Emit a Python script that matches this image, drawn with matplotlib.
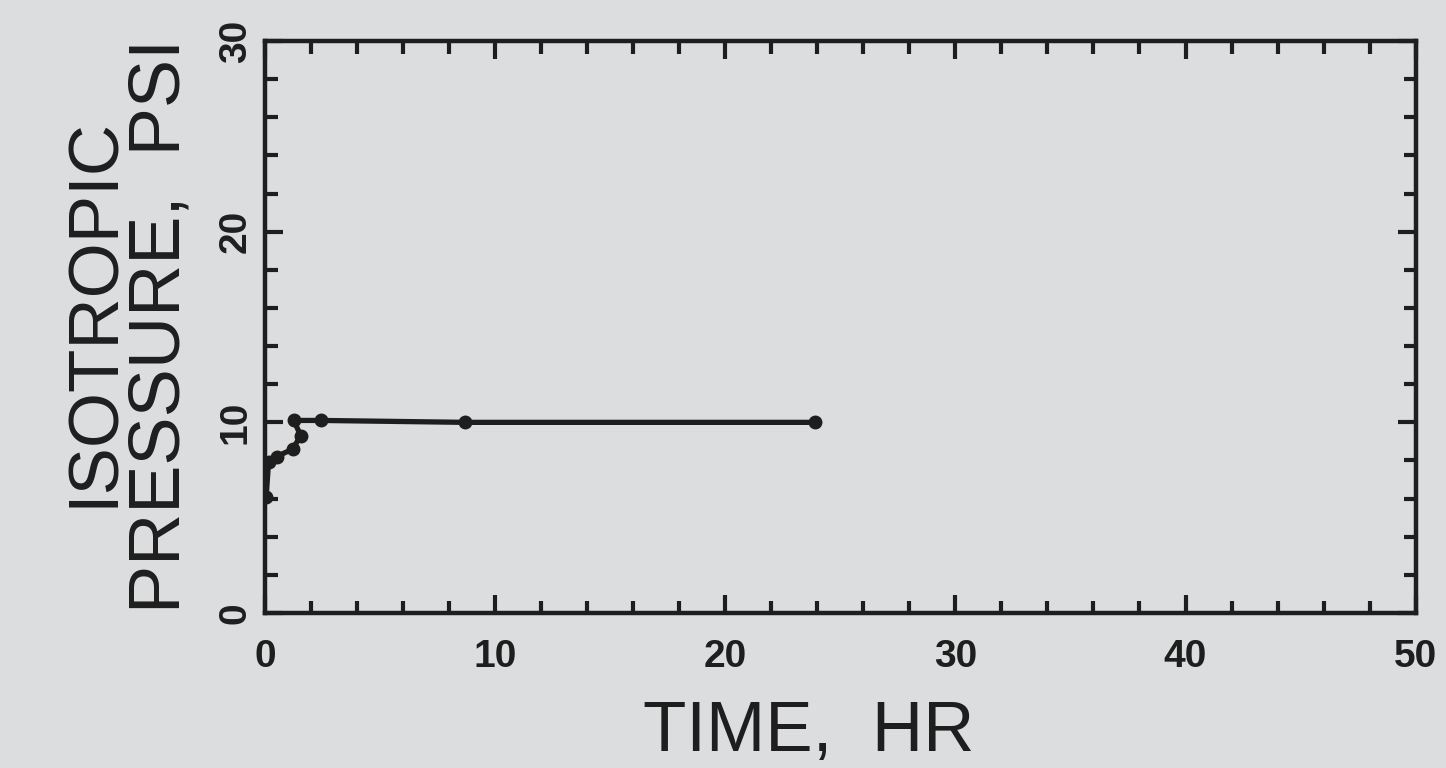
import matplotlib.pyplot as plt
from matplotlib.ticker import MultipleLocator

# pressure history of the isotropic consolidation stage
time_hr = [0.05, 0.15, 0.5, 1.2, 1.55, 1.25, 2.45, 8.7, 23.9]
pressure_psi = [6.1, 7.9, 8.2, 8.6, 9.3, 10.1, 10.1, 10.0, 10.0]

x_ticks = [0, 10, 20, 30, 40, 50]
y_ticks = [0, 10, 20, 30]

plt.rcParams['font.family'] = ['Liberation Sans', 'DejaVu Sans']

bg = '#dcdddf'
ink = '#1e1e1e'

fig = plt.figure(figsize=(14.46, 7.68), dpi=100, facecolor=bg)
ax = fig.add_axes([0.1833, 0.2018, 0.7957, 0.7448], facecolor=bg)

ax.plot(time_hr, pressure_psi, color=ink, lw=3.8, marker='o', ms=9,
        markerfacecolor=ink, markeredgecolor=ink, solid_joinstyle='round')

ax.set_xlim(0, 50)
ax.set_ylim(0, 30)
ax.set_xticks(x_ticks)
ax.set_yticks(y_ticks)
ax.xaxis.set_minor_locator(MultipleLocator(2))
ax.yaxis.set_minor_locator(MultipleLocator(2))

for side in ['top', 'bottom', 'left', 'right']:
    ax.spines[side].set_linewidth(3.2)
    ax.spines[side].set_color(ink)

ax.tick_params(which='both', direction='in', top=True, right=True,
               color=ink, width=3)
ax.tick_params(which='major', length=13)
ax.tick_params(which='minor', length=9)
ax.tick_params(axis='x', which='major', pad=19, labelsize=28)
ax.tick_params(axis='y', which='major', pad=8, labelsize=28)

for lab in ax.get_xticklabels():
    lab.set_fontweight('bold')
    lab.set_color(ink)
for lab in ax.get_yticklabels():
    lab.set_fontweight('bold')
    lab.set_color(ink)
    lab.set_rotation(90)
    lab.set_va('center')

# axis titles placed by hand, as on the original drawing
fig.text(0.559, 0.046, 'TIME,  HR', fontsize=51, color=ink,
         ha='center', va='center')
fig.text(0.0655, 0.594, 'ISOTROPIC', fontsize=51, color=ink,
         rotation=90, ha='center', va='center')
fig.text(0.1115, 0.5755, 'PRESSURE,  PSI', fontsize=52, color=ink,
         rotation=90, ha='center', va='center')

fig.savefig('out.png', dpi=100, facecolor=bg)
